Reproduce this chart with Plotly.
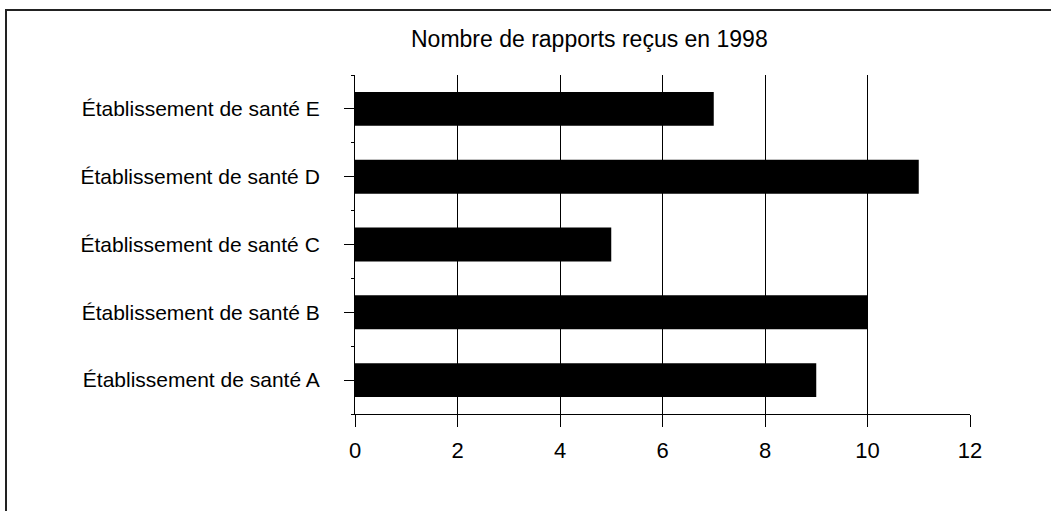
import plotly.graph_objects as go

categories = ["Établissement de santé A", "Établissement de santé B", "Établissement de santé C",
              "Établissement de santé D", "Établissement de santé E"]
values = [9, 10, 5, 11, 7]
x_ticks = [0, 2, 4, 6, 8, 10, 12]
title_text = "Nombre de rapports reçus en 1998"

ypos = list(range(len(categories)))

W, H = 1051, 511
# target pixel positions on the page
PL, PR, PT, PB = 355, 970, 75, 414
L, T = PL, PT
R = W - PR
B = H - PB
pw, ph = W - L - R, H - T - B

def px_x(p):
    return (p - L) / pw

def px_y(p):
    return (H - B - p) / ph

fig = go.Figure()
fig.add_trace(go.Bar(
    x=values, y=ypos, orientation="h", width=0.5,
    marker=dict(color="black", line=dict(width=0)),
    showlegend=False,
))

font = "Liberation Sans, Arial, sans-serif"
fig.update_layout(
    width=W, height=H,
    margin=dict(l=L, r=R, t=T, b=B, autoexpand=False),
    paper_bgcolor="white", plot_bgcolor="white",
    font=dict(family=font, color="black"),
    xaxis=dict(
        range=[0, 12], tickvals=x_ticks, ticktext=[str(v) for v in x_ticks],
        showgrid=True, gridcolor="black", gridwidth=1, zeroline=False,
        showline=True, linecolor="black", linewidth=1,
        ticks="outside", ticklen=12, tickcolor="black", tickwidth=1,
        tickfont=dict(size=22, family=font, color="black"),
        ticklabelstandoff=5,
    ),
    yaxis=dict(
        range=[-0.5, len(categories) - 0.5], tickvals=ypos, ticktext=categories,
        showgrid=False, zeroline=False,
        showline=True, linecolor="black", linewidth=1,
        ticks="outside", ticklen=10, tickcolor="black", tickwidth=1,
        minor=dict(tickvals=[i + 0.5 for i in range(-1, len(categories))], ticks="outside", ticklen=3, tickcolor="black"),
        tickfont=dict(size=21, family=font, color="black"),
        ticklabelstandoff=20,
    ),
    bargap=0.5,
)

fig.add_annotation(
    text=title_text, xref="paper", yref="paper",
    x=px_x(589), y=px_y(39), xanchor="center", yanchor="middle",
    showarrow=False, font=dict(size=23, family=font, color="black"),
)

fig.add_shape(
    type="rect", xref="paper", yref="paper",
    x0=px_x(6), x1=px_x(1070), y0=px_y(530), y1=px_y(10),
    line=dict(color="#222222", width=2), fillcolor="rgba(0,0,0,0)", layer="below",
)

fig.write_html("out.html", config={"displayModeBar": False},
               post_script="document.body.style.margin='0';")
